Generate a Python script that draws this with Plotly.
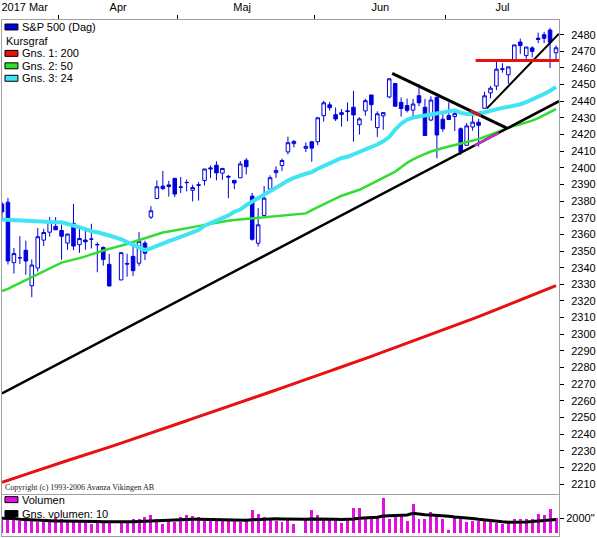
import numpy as np
import plotly.graph_objects as go

# ---------------- data ----------------
dates = [
    "2017-03-20", "2017-03-21", "2017-03-22", "2017-03-23", "2017-03-24",
    "2017-03-27", "2017-03-28", "2017-03-29", "2017-03-30", "2017-03-31",
    "2017-04-03", "2017-04-04", "2017-04-05", "2017-04-06", "2017-04-07",
    "2017-04-10", "2017-04-11", "2017-04-12", "2017-04-13", "2017-04-14",
    "2017-04-17", "2017-04-18", "2017-04-19", "2017-04-20", "2017-04-21",
    "2017-04-24", "2017-04-25", "2017-04-26", "2017-04-27", "2017-04-28",
    "2017-05-01", "2017-05-02", "2017-05-03", "2017-05-04", "2017-05-05",
    "2017-05-08", "2017-05-09", "2017-05-10", "2017-05-11", "2017-05-12",
    "2017-05-15", "2017-05-16", "2017-05-17", "2017-05-18", "2017-05-19",
    "2017-05-22", "2017-05-23", "2017-05-24", "2017-05-25", "2017-05-26",
    "2017-05-29", "2017-05-30", "2017-05-31", "2017-06-01", "2017-06-02",
    "2017-06-05", "2017-06-06", "2017-06-07", "2017-06-08", "2017-06-09",
    "2017-06-12", "2017-06-13", "2017-06-14", "2017-06-15", "2017-06-16",
    "2017-06-19", "2017-06-20", "2017-06-21", "2017-06-22", "2017-06-23",
    "2017-06-26", "2017-06-27", "2017-06-28", "2017-06-29", "2017-06-30",
    "2017-07-03", "2017-07-05", "2017-07-06", "2017-07-07",
    "2017-07-10", "2017-07-11", "2017-07-12", "2017-07-13", "2017-07-14",
    "2017-07-17", "2017-07-18", "2017-07-19", "2017-07-20", "2017-07-21",
    "2017-07-24", "2017-07-25", "2017-07-26", "2017-07-27", "2017-07-28",
]

open_ = [
    2378.24, 2379.32, 2343.00, 2345.97, 2350.42,
    2329.11, 2339.79, 2356.54, 2361.31, 2364.82,
    2362.34, 2354.76, 2366.59, 2353.79, 2356.59,
    2357.16, 2353.92, 2352.15, 2341.98, None,
    2332.62, 2342.53, 2346.79, 2342.69, 2354.74,
    2370.33, 2381.51, 2388.98, 2389.70, 2393.68,
    2388.50, 2391.05, 2386.50, 2389.79, 2392.37,
    2399.94, 2401.58, 2396.79, 2394.84, 2392.44,
    2393.98, 2404.55, 2382.95, 2354.69, 2371.37,
    2387.21, 2397.04, 2401.41, 2409.54, 2414.50,
    None, 2411.67, 2415.63, 2415.65, 2431.28,
    2437.83, 2431.92, 2432.03, 2434.27, 2436.39,
    2425.88, 2434.15, 2443.75, 2424.14, 2431.24,
    2442.55, 2450.66, 2439.31, 2437.40, 2434.65,
    2443.32, 2436.34, 2428.70, 2442.38, 2429.20,
    2431.39, 2430.78, 2423.44, 2413.52,
    2424.51, 2427.35, 2435.75, 2444.99, 2449.13,
    2459.50, 2455.88, 2463.85, 2475.56, 2467.40,
    2472.04, 2477.88, 2479.97, 2482.76, 2469.12,
]
high = [
    2379.55, 2381.93, 2351.81, 2358.92, 2356.22,
    2344.90, 2363.78, 2363.36, 2370.42, 2370.35,
    2365.87, 2360.53, 2378.36, 2364.16, 2363.76,
    2366.37, 2355.22, 2352.72, 2348.26, None,
    2349.14, 2348.35, 2352.63, 2361.37, 2356.18,
    2376.98, 2392.48, 2398.16, 2392.10, 2393.68,
    2394.49, 2392.93, 2389.82, 2391.43, 2399.29,
    2401.36, 2403.87, 2399.74, 2395.72, 2392.44,
    2404.05, 2405.77, 2384.87, 2375.74, 2389.06,
    2395.46, 2400.85, 2405.58, 2418.71, 2416.68,
    None, 2415.26, 2415.99, 2430.06, 2440.23,
    2439.55, 2436.21, 2435.28, 2439.27, 2446.20,
    2430.38, 2441.49, 2443.75, 2433.95, 2433.15,
    2453.82, 2450.66, 2442.23, 2441.62, 2441.40,
    2450.42, 2441.35, 2442.97, 2442.73, 2432.71,
    2439.17, 2434.90, 2424.28, 2426.92,
    2432.00, 2429.30, 2445.76, 2449.13, 2463.54,
    2462.82, 2460.92, 2473.83, 2477.62, 2472.54,
    2473.10, 2481.24, 2481.69, 2484.04, 2473.53,
]
low = [
    2369.66, 2341.90, 2336.45, 2342.13, 2335.74,
    2322.25, 2337.63, 2352.94, 2358.58, 2362.60,
    2344.73, 2350.72, 2350.52, 2348.90, 2350.74,
    2351.50, 2337.25, 2341.18, 2328.95, None,
    2332.51, 2334.54, 2335.05, 2340.91, 2344.51,
    2369.19, 2381.15, 2386.78, 2382.68, 2382.36,
    2384.83, 2385.82, 2379.75, 2380.35, 2389.38,
    2393.92, 2392.44, 2392.79, 2381.74, 2387.19,
    2393.94, 2396.05, 2356.21, 2352.72, 2370.43,
    2386.92, 2393.88, 2397.99, 2408.01, 2412.20,
    None, 2409.43, 2403.59, 2413.54, 2427.71,
    2434.32, 2428.12, 2424.75, 2427.94, 2415.70,
    2419.97, 2431.28, 2428.34, 2418.53, 2422.88,
    2441.79, 2436.60, 2430.74, 2433.27, 2431.11,
    2437.03, 2419.38, 2428.02, 2405.70, 2421.65,
    2428.69, 2422.05, 2407.70, 2413.52,
    2422.27, 2412.79, 2435.75, 2441.69, 2446.69,
    2457.16, 2450.34, 2463.85, 2468.43, 2465.06,
    2466.32, 2474.91, 2474.94, 2459.93, 2464.66,
]
close = [
    2373.47, 2344.02, 2348.45, 2345.96, 2343.98,
    2341.59, 2358.57, 2361.13, 2368.06, 2362.72,
    2358.84, 2360.16, 2352.95, 2357.49, 2355.54,
    2357.16, 2353.78, 2344.93, 2328.95, None,
    2349.01, 2342.19, 2338.17, 2355.84, 2348.69,
    2374.15, 2388.61, 2387.45, 2388.77, 2384.20,
    2388.33, 2391.17, 2388.13, 2389.52, 2399.29,
    2399.38, 2396.92, 2399.63, 2394.44, 2390.90,
    2402.32, 2400.67, 2357.03, 2365.72, 2381.73,
    2394.02, 2398.42, 2404.39, 2415.07, 2415.82,
    None, 2412.91, 2411.80, 2430.06, 2439.07,
    2436.10, 2429.33, 2433.14, 2433.79, 2431.77,
    2429.39, 2440.35, 2437.92, 2432.46, 2433.15,
    2453.46, 2437.03, 2435.61, 2434.50, 2438.30,
    2439.07, 2419.38, 2440.69, 2419.70, 2423.41,
    2429.01, 2432.54, 2409.75, 2425.18,
    2427.43, 2425.53, 2443.25, 2447.83, 2459.27,
    2459.14, 2460.61, 2473.83, 2473.45, 2472.54,
    2469.91, 2477.13, 2477.83, 2475.42, 2472.10,
]

# moving averages
ma200 = [
    2211.0, 2212.1, 2213.4, 2214.5, 2215.8, 2217.0, 2218.1, 2219.3, 2220.6, 2221.7,
    2222.9, 2224.1, 2225.2, 2226.5, 2227.6, 2228.8, 2230.0, 2231.1, 2232.2, None,
    2234.6, 2235.8, 2236.9, 2238.1, 2239.2, 2240.5, 2241.8, 2243.0, 2244.3, 2245.5,
    2246.8, 2248.0, 2249.3, 2250.5, 2251.8, 2253.0, 2254.2, 2255.5, 2256.7, 2257.9,
    2259.2, 2260.4, 2261.5, 2262.7, 2263.9, 2265.2, 2266.5, 2267.8, 2269.0, 2270.3,
    None, 2272.8, 2274.0, 2275.3, 2276.6, 2277.8, 2279.1, 2280.3, 2281.6, 2282.8,
    2284.1, 2285.4, 2286.7, 2288.0, 2289.3, 2290.6, 2291.9, 2293.2, 2294.5, 2295.8,
    2297.1, 2298.4, 2299.8, 2301.1, 2302.4, 2303.8, 2305.1, 2306.4, 2307.8,
    2309.2, 2310.6, 2312.0, 2313.4, 2314.8, 2316.2, 2317.6, 2319.0, 2320.5, 2322.0,
    2323.5, 2325.0, 2326.4, 2327.8, 2329.2,
]
ma50 = [
    2326.0, 2327.2, 2329.0, 2330.8, 2332.2, 2334.0, 2335.8, 2337.6, 2339.4, 2341.2,
    2343.0, 2343.9, 2344.7, 2345.7, 2346.8, 2348.0, 2349.4, 2350.3, 2351.3, None,
    2353.0, 2354.2, 2355.4, 2356.6, 2357.8, 2358.9, 2360.1, 2361.1, 2361.7, 2362.3,
    2362.9, 2363.8, 2364.5, 2365.0, 2365.6, 2366.3, 2367.0, 2367.8, 2368.2, 2368.6,
    2368.9, 2369.3, 2369.6, 2370.0, 2370.4, 2370.7, 2371.0, 2371.2, 2371.4, 2371.7,
    None, 2372.6, 2374.5, 2376.3, 2378.2, 2380.0, 2381.7, 2383.2, 2384.4, 2385.4,
    2386.8, 2388.5, 2390.4, 2392.3, 2394.1, 2395.9, 2397.7, 2400.4, 2403.0, 2405.0,
    2406.8, 2408.3, 2409.8, 2411.0, 2411.9, 2412.8, 2413.7, 2414.6, 2415.5,
    2416.4, 2417.2, 2418.6, 2420.0, 2421.3, 2422.9, 2424.3, 2425.3, 2426.2, 2427.2,
    2428.3, 2429.8, 2431.6, 2433.4, 2435.3,
]
ma24 = [
    2369.0, 2368.8, 2368.5, 2368.2, 2367.9, 2367.9, 2367.7, 2367.5, 2367.4, 2367.3,
    2367.3, 2366.5, 2365.5, 2364.3, 2363.2, 2361.9, 2361.3, 2360.5, 2359.3, None,
    2357.0, 2355.3, 2353.4, 2351.9, 2350.6, 2351.6, 2353.2, 2354.6, 2355.9, 2357.2,
    2358.4, 2359.9, 2361.4, 2362.6, 2365.2, 2366.8, 2368.2, 2369.6, 2371.4, 2373.6,
    2374.9, 2377.6, 2379.6, 2381.4, 2383.5, 2385.7, 2388.0, 2390.1, 2392.3, 2394.0,
    None, 2396.4, 2397.4, 2399.4, 2401.1, 2403.1, 2404.6, 2405.9, 2406.6, 2408.0,
    2409.6, 2410.9, 2412.5, 2414.0, 2415.9, 2418.5, 2423.0, 2426.5, 2428.9, 2430.2,
    2430.8, 2431.4, 2432.2, 2432.9, 2433.6, 2434.4, 2434.5, 2433.0, 2432.3,
    2432.3, 2432.6, 2433.2, 2434.2, 2435.3, 2436.0, 2436.6, 2437.2, 2438.2, 2439.5,
    2441.0, 2442.6, 2444.3, 2446.3, 2448.5,
]

volume = [
    1800, 3120, 2040, 1700, 1700, 1700, 1520, 1830, 1520, 2130,
    1960, 1700, 1830, 1700, 1520, 1270, 1520, 1520, 1390, None,
    1520, 1700, 1960, 1960, 2130, 2480, 1960, 1270, 1830, 1520,
    2130, 2480, 2260, 2130, 1700, 1830, 1700, 1700, 1960, 1700,
    1520, 1830, 3120, 2560, 2130, 1830, 1700, 1520, 1830, 1190,
    None, 1900, 3150, 2400, 1900, 1900, 1900, 1400, 1900, 3400,
    3400, 2150, 2150, 2150, 4700, 1900, 2150, 2500, 1650, 3900,
    1900, 1900, 2900, 2650, 1900, 400, 2000, 1900, 1500,
    1650, 1650, 1650, 1500, 1400, 1300, 1400, 1900, 1900, 1900,
    1900, 2650, 2400, 3300, 2000,
]
volume_ma10 = [
    2050, 2050, 2000, 1900, 1850, 1800, 1780, 1740, 1700, 1680,
    1680, 1650, 1660, 1680, 1660, 1620, 1600, 1580, 1560, None,
    1540, 1530, 1560, 1600, 1640, 1700, 1740, 1760, 1800, 1820,
    1850, 1880, 1900, 1920, 1900, 1880, 1850, 1820, 1800, 1780,
    1760, 1760, 1850, 1900, 1940, 1960, 1960, 1940, 1920, 1900,
    None, 1900, 1950, 1960, 1940, 1920, 1900, 1880, 1880, 1950,
    2050, 2100, 2150, 2180, 2350, 2380, 2400, 2450, 2480, 2700,
    2550, 2500, 2480, 2450, 2400, 2300, 2200, 2150, 2050,
    2000, 1900, 1800, 1700, 1650, 1580, 1520, 1500, 1520, 1550,
    1600, 1650, 1700, 1800, 1880,
]

# drawn trend lines (slot position, value)
trend_long_x = [0.0, 93.5]
trend_long_y = [2264.4, 2440.0]
trend_down_x = [65.5, 84.75]
trend_down_y = [2456.7, 2423.8]
trend_up_x = [81.4, 93.5]
trend_up_y = [2435.7, 2480.6]
level_x = [79.5, 93.5]
level_y = [2464.5, 2464.5]
# stretches where the drawn lines overlap other lines (colour-mixed in the original)
overlap_long_x = [79.3, 83.4]
overlap_down_x = [78.6, 80.4]

month_labels = ["2017 Mar", "Apr", "Maj", "Jun", "Jul"]
month_label_pos = [3.8, 19.5, 40.3, 63.5, 84.0]
month_bounds = [9.5, 29.5, 52.5, 74.5]
price_ticks = list(range(2210, 2481, 10))

# ---------------- styling ----------------
W, H = 597, 538
ML, MR, MT, MB = 1, 36, 18, 2
PW, PH = W - ML - MR, H - MT - MB
BLUE = "#0000dd"
RED = "#e81010"
GREEN = "#30dd30"
CYAN = "#40e4f4"
MAG = "#e010e0"
GRAY = "#a0a0a0"
FONT = "Liberation Sans, Arial, sans-serif"

def px(x):
    return (x - ML) / PW

def py(y):
    return (H - MB - y) / PH

slots = list(range(len(dates)))
XR = [0.0, 93.5]

fig = go.Figure()

fig.add_trace(go.Candlestick(
    x=slots, open=open_, high=high, low=low, close=close,
    increasing=dict(line=dict(color=BLUE, width=1), fillcolor="white"),
    decreasing=dict(line=dict(color=BLUE, width=1), fillcolor=BLUE),
    whiskerwidth=0, showlegend=False, hoverinfo="skip",
    xaxis="x", yaxis="y",
))

for vals, col, w in [(ma200, RED, 3), (ma50, GREEN, 2.5), (ma24, CYAN, 4)]:
    fig.add_trace(go.Scatter(x=slots, y=vals, mode="lines", connectgaps=True,
                             line=dict(color=col, width=w), showlegend=False,
                             hoverinfo="skip", xaxis="x", yaxis="y"))

for tx, ty, col, w in [(trend_long_x, trend_long_y, "black", 2.5),
                       (trend_down_x, trend_down_y, "black", 3),
                       (trend_up_x, trend_up_y, "black", 2),
                       (level_x, level_y, RED, 3)]:
    fig.add_trace(go.Scatter(x=tx, y=ty, mode="lines",
                             line=dict(color=col, width=w), showlegend=False,
                             hoverinfo="skip", xaxis="x", yaxis="y"))

# overlap stretches, placed on the drawn lines themselves
for ox, lx, ly, col, w in [(overlap_long_x, trend_long_x, trend_long_y, "#c030c0", 2.5),
                           (overlap_down_x, trend_down_x, trend_down_y, "#d01818", 3)]:
    fig.add_trace(go.Scatter(x=ox, y=list(np.interp(ox, lx, ly)), mode="lines",
                             line=dict(color=col, width=w), showlegend=False,
                             hoverinfo="skip", xaxis="x", yaxis="y"))

fig.add_trace(go.Bar(x=slots, y=volume, marker=dict(color=MAG, line=dict(width=0)),
                     width=0.5, showlegend=False, hoverinfo="skip",
                     xaxis="x2", yaxis="y2"))
fig.add_trace(go.Scatter(x=slots, y=volume_ma10, mode="lines", connectgaps=True,
                         line=dict(color="black", width=3), showlegend=False,
                         hoverinfo="skip", xaxis="x2", yaxis="y2"))

price_bottom = py(494)
vol_top = py(495)

fig.update_layout(
    width=W, height=H,
    margin=dict(l=ML, r=MR, t=MT, b=MB, pad=0),
    paper_bgcolor="white", plot_bgcolor="white",
    font=dict(family=FONT, size=11, color="black"),
    bargap=0, boxgap=0.15,
    xaxis=dict(domain=[0, 1], range=XR, anchor="y", side="top",
               tickmode="array", tickvals=month_label_pos, ticktext=month_labels,
               ticks="outside", ticklen=4, tickcolor="rgba(0,0,0,0)",
               minor=dict(tickmode="array", tickvals=month_bounds,
                          ticks="outside", ticklen=4, tickcolor="black",
                          tickwidth=1, showgrid=False),
               showline=True, mirror=True, linecolor=GRAY, linewidth=1,
               showgrid=False, zeroline=False, rangeslider=dict(visible=False),
               tickfont=dict(family=FONT, size=11, color="black")),
    yaxis=dict(domain=[price_bottom, 1], range=[2203.9, 2488.8], anchor="x",
               side="right", tickmode="array", tickvals=price_ticks,
               ticks="outside", ticklen=4, tickcolor="black",
               ticklabelstandoff=5,
               showline=True, mirror=True, linecolor=GRAY, linewidth=1,
               showgrid=False, zeroline=False,
               tickfont=dict(family=FONT, size=11, color="black")),
    xaxis2=dict(domain=[0, 1], range=XR, anchor="y2", showticklabels=False,
                ticks="", showline=True, mirror=True, linecolor=GRAY,
                showgrid=False, zeroline=False),
    yaxis2=dict(domain=[0, vol_top], range=[-333, 5133], anchor="x2",
                side="right", tickmode="array", tickvals=[2000],
                ticktext=['2000"'], ticks="outside", ticklen=4,
                tickcolor="black", showline=True, mirror=True,
                linecolor=GRAY, showgrid=False, zeroline=False,
                tickfont=dict(family=FONT, size=11, color="black")),
)

legend_items = [
    (25.0, BLUE, "S&P 500 (Dag)"),
    (39.5, None, "Kursgraf"),
    (51.5, RED, "Gns. 1: 200"),
    (64.0, GREEN, "Gns. 2: 50"),
    (76.5, CYAN, "Gns. 3: 24"),
    (499.5, MAG, "Volumen"),
    (513.5, "black", "Gns. volumen: 10"),
]
shapes = []
annotations = []
for yc, col, txt in legend_items:
    if col is not None:
        shapes.append(dict(type="rect", xref="paper", yref="paper",
                           x0=px(4), x1=px(17), y0=py(yc + 3), y1=py(yc - 3),
                           fillcolor=col, line=dict(color="black", width=1)))
        tx = 19
    else:
        tx = 3
    annotations.append(dict(xref="paper", yref="paper", x=px(tx), y=py(yc),
                            xanchor="left", yanchor="middle", showarrow=False,
                            text=txt, font=dict(family=FONT, size=11, color="black")))

annotations.append(dict(xref="paper", yref="paper", x=px(2), y=py(487),
                        xanchor="left", yanchor="middle", showarrow=False,
                        text="Copyright (c) 1993-2006 Avanza Vikingen AB",
                        font=dict(family="Liberation Serif, Times New Roman, serif",
                                  size=8, color="#202020")))

fig.update_layout(shapes=shapes, annotations=annotations)

fig.write_html("out.html", config={"displayModeBar": False},
               post_script="document.body.style.margin='0px';document.body.style.overflow='hidden';")
